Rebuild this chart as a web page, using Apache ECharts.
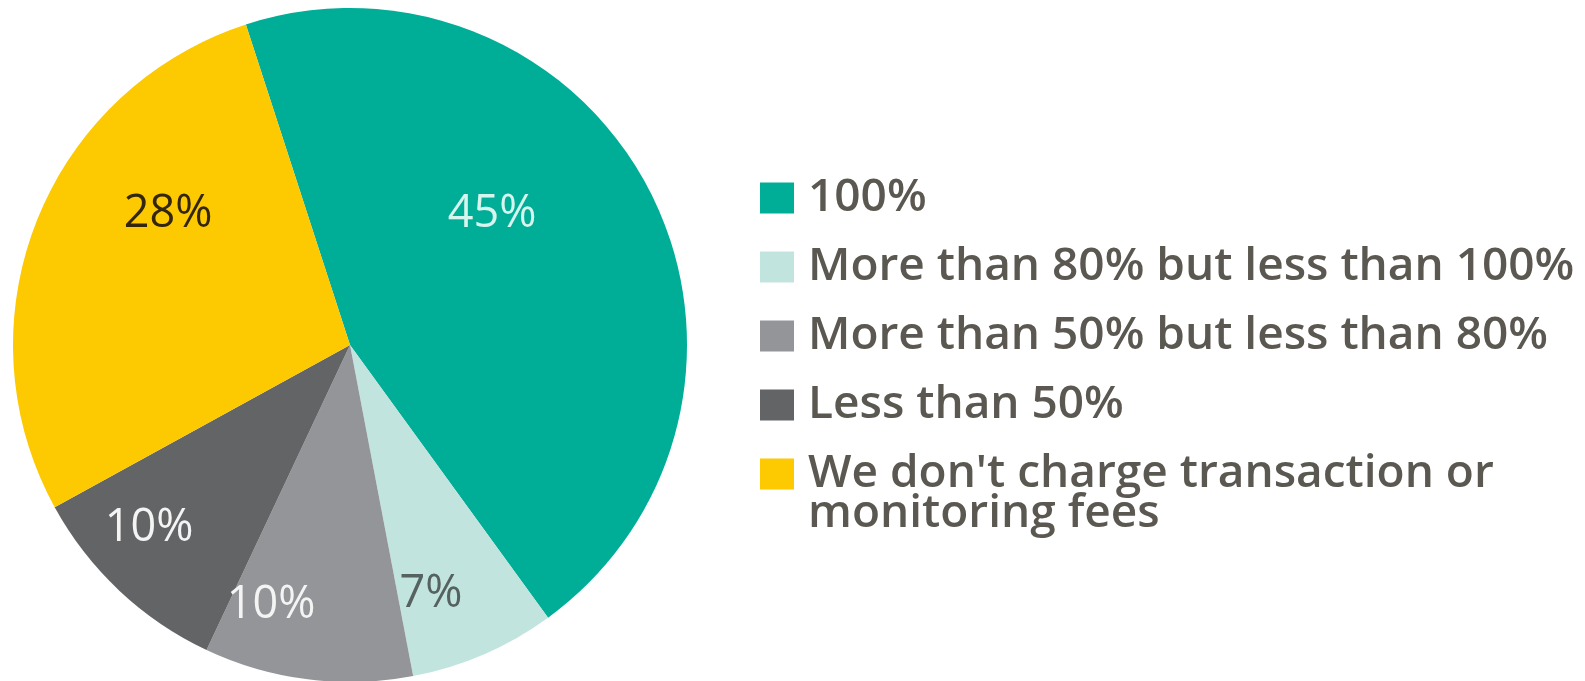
<!DOCTYPE html>
<html>
<head>
<meta charset="utf-8">
<script src="https://cdn.jsdelivr.net/npm/echarts@6/dist/echarts.min.js"></script>
<style>
  html, body { margin: 0; padding: 0; background: #ffffff; }
  #chart { width: 1585px; height: 681px; }
</style>
</head>
<body>
<div id="chart"></div>
<script>
// Share of transaction / monitoring fees passed on
const categories = [
  '100%',
  'More than 80% but less than 100%',
  'More than 50% but less than 80%',
  'Less than 50%',
  "We don't charge transaction or\nmonitoring fees"
];
const shares = [45, 7, 10, 10, 28];
const sliceColors = ['#00ae98', '#c2e4de', '#939598', '#636466', '#fdc900'];
const valueLabelColors = ['#d6f5ee', '#55625f', '#f4f4f4', '#f4f4f4', '#33260a'];

// where each value label sits, as [x, y] on the canvas
const labelSpots = [[492, 214], [431, 594], [271, 605], [149, 528], [168, 214]];

const SQ_W = 34, SQ_H = 31, SQ_GAP = 14, LINE_H = 40;

const rich = {
  t: { fontFamily: 'Open Sans', fontWeight: 600, fontSize: 46, lineHeight: LINE_H, height: LINE_H, color: '#5a5850', verticalAlign: 'middle' },
  g: { width: SQ_GAP, height: SQ_H, lineHeight: LINE_H },
  pad: { width: SQ_W + SQ_GAP, height: SQ_H, lineHeight: LINE_H }
};
sliceColors.forEach((c, i) => {
  rich['s' + i] = { width: SQ_W, height: SQ_H, lineHeight: LINE_H, backgroundColor: c, verticalAlign: 'middle' };
});

const chart = echarts.init(document.getElementById('chart'), null, { renderer: 'canvas' });

chart.setOption({
  animation: false,
  legend: {
    orient: 'vertical',
    left: 750,
    top: 170,
    itemGap: 23,
    icon: 'rect',
    itemWidth: 0,
    itemHeight: 0,
    data: categories,
    textStyle: { rich: rich },
    formatter: function (name) {
      const i = categories.indexOf(name);
      const lines = name.split('\n');
      return lines.map((ln, k) =>
        (k === 0 ? '{s' + i + '|}{g|}' : '{pad|}') + '{t|' + ln + '}'
      ).join('\n');
    }
  },
  series: [{
    type: 'pie',
    center: [350, 345],
    radius: 337,
    startAngle: 108,
    clockwise: true,
    avoidLabelOverlap: false,
    emphasis: { disabled: true },
    label: {
      show: true,
      position: 'inside',
      formatter: '{c}%',
      fontFamily: 'Open Sans',
      fontSize: 45,
      fontWeight: 400
    },
    labelLine: { show: false },
    labelLayout: function (p) {
      const s = labelSpots[p.dataIndex];
      return { x: s[0], y: s[1], align: 'center', verticalAlign: 'middle' };
    },
    data: categories.map((name, i) => ({
      name: name,
      value: shares[i],
      itemStyle: { color: sliceColors[i] },
      label: { color: valueLabelColors[i] }
    }))
  }]
});
</script>
</body>
</html>
